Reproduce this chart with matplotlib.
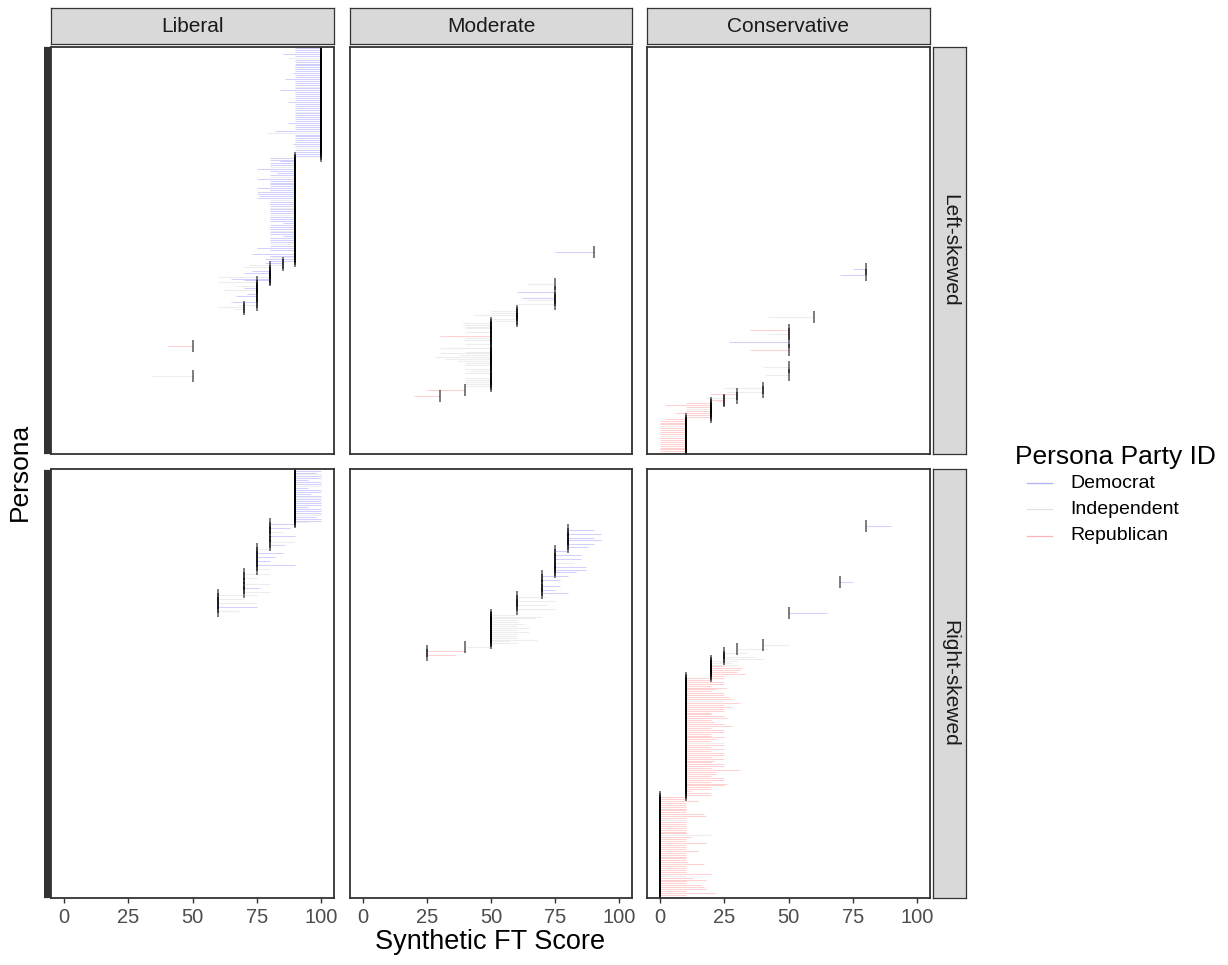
import matplotlib
matplotlib.use("Agg")
import matplotlib.pyplot as plt
from matplotlib.lines import Line2D
import numpy as np

plt.rcParams['font.family'] = ['Liberation Sans', 'DejaVu Sans']

columns = ["Liberal", "Moderate", "Conservative"]
column_codes = ["L", "M", "C"]
rows = ["Left-skewed", "Right-skewed"]
party_names = ["Democrat", "Independent", "Republican"]
party_codes = ["D", "I", "R"]
party_colors = {"D": "#0000ff", "I": "#a0a0a0", "R": "#ff0000"}
x_ticks = [0, 25, 50, 75, 100]

# personas listed top to bottom: (ideology codes, target, synthetic scores, party codes)
left_blocks = [
    ("L", 100,
     [90, 90, 90, 85, 90, 87, 90, 90, 90, 90,
      90, 90, 90, 89, 90, 90, 86, 90, 90, 90,
      90, 90, 84, 90, 90, 90, 90, 90, 87, 90,
      90, 90, 90, 90, 90, 90, 90, 90, 90, 87,
      90, 90, 90, 82, 79, 90, 90, 90, 90, 90,
      89, 90, 90, 90, 90, 90, 90],
     "DDDDDIDDDD DDDDDDDDDD IDDDDDDDDD DDDIDDDDDD DDDDIDDDDD DDIDDDD"),
    ("LLLLLLLLLL LLLLLLLLLL LLLLLLLLLL LLLLLLLLLL LLLLLLLLLM LLLLL", 90,
     [80, 80, 84, 80, 80, 80, 75, 80, 83, 80,
      80, 75, 80, 80, 80, 80, 75, 80, 75, 75,
      76, 75, 80, 80, 80, 80, 80, 80, 80, 80,
      80, 80, 80, 80, 85, 80, 80, 80, 80, 80,
      80, 85, 80, 80, 80, 80, 80, 75, 80, 75,
      73, 80, 80, 78, 80],
     "DDDDDIDDDD IDDDDDDDDD DDIDDDIDDD IDDDDDDDID DDDDDIDDDD DDIDD"),
    ("L", 85, [78, 72], "DI"),
    ("LCLLCLLL", 80, [70, 75, 73, 70, 70, 60, 65, 70], "IDDDDIDD"),
    ("LMLLLMLLMMLML", 75, [60, 64, 67, 70, 62, 60, 71, 67, 62, 64, 65, 60, 68], "IIIDIDDDDIDII"),
    ("L", 70, [60, 66], "II"),
    ("MMMCMM", 60, [50, 50, 43, 42, 50, 51], "IIIIII"),
    ("MMMMCMCMMM CMLMCMMMMM MMMCMMMCLM MMMM", 50,
     [39, 39, 40, 40, 35, 40, 42, 30, 40, 39,
      27, 40, 40, 30, 35, 40, 30, 38, 28, 32,
      37, 40, 40, 40, 40, 42, 40, 41, 34, 40,
      40, 40, 40, 40],
     "IIIIRIIRII DIRIRIIIII IIIIIIIIII IIII"),
    ("CMC", 40, [25, 25, 26], "IRI"),
    ("CMC", 30, [20, 20, 18], "RRI"),
    ("C", 25, [20, 22], "RI"),
    ("C", 20, [10, 2, 10, 10, 10, 6, 10, 10], "RRRIRRRR"),
    ("C", 10, [2, 0, 0, 0, 0, 0, 0, 0, 0, 0, 0, 0, 0, 0, 0, 0, 0, 0, 0],
     "RRRRIRRRRIRRRRRRRRR"),
]

right_blocks = [
    ("L", 90,
     [100, 98, 100, 100, 100, 95, 100, 100, 100, 95,
      100, 100, 96, 100, 100, 100, 100, 100, 100, 95,
      100, 100, 100, 100, 98, 100, 100, 95],
     "DDIDDDDDID DDDDIDDDDD DDDIDDDI"),
    ("LCLMLMLMMLMLM", 80, [90, 90, 88, 90, 85, 93, 90, 90, 93, 90, 90, 86, 88], "DDDDIDDDDIDDD"),
    ("LMLMLMLMLMLMM", 75, [80, 80, 85, 85, 82, 85, 80, 82, 90, 87, 80, 87, 83], "IDDDDDDIDDIDD"),
    ("LMLMCLMLMLM", 70, [80, 80, 75, 77, 75, 80, 77, 76, 75, 80, 80], "IDIDDIDDDID"),
    ("LMLMLMLML", 60, [75, 71, 70, 75, 75, 72, 75, 75, 68], "IIIIIIDII"),
    ("CMMMMMMMMMMMMMMMM", 50, [65, 60, 70, 67, 60, 60, 63, 60, 65, 60, 65, 60, 60, 60, 68, 57, 60],
     "DIIIIIIIIIIIIIIII"),
    ("CM", 40, [50, 50], "II"),
    ("C", 30, [42], "I"),
    ("MCMCC", 25, [40, 34, 36, 37, 40], "RIRII"),
    ("C", 20, [30, 28, 30, 25, 32, 31, 30, 33, 25], "IIIRRRRRR"),
    ("C", 10,
     [25, 20, 25, 25, 20, 26, 22, 20, 25, 25,
      27, 28, 25, 31, 25, 28, 25, 25, 20, 20,
      25, 26, 20, 21, 25, 28, 20, 25, 25, 20,
      20, 25, 22, 20, 25, 25, 20, 25, 20, 25,
      25, 20, 25, 21, 20, 25, 25, 20, 31, 22,
      22, 20, 25, 25, 20, 26, 25, 20, 20, 12,
      20, 20],
     "RRRRRRRRRR RRIRRRRRRR RRRRRRRRRR RRRRIRRRRR RRRRRRRRRR RRRRRRRRRR RR"),
    ("C", 0,
     [10, 10, 15, 10, 10, 10, 10, 10, 10, 17,
      18, 10, 10, 10, 10, 10, 10, 10, 10, 10,
      20, 12, 10, 10, 18, 10, 10, 10, 15, 10,
      10, 10, 10, 10, 11, 17, 10, 10, 10, 10,
      20, 10, 13, 18, 10, 10, 16, 17, 18, 10,
      22, 10, 10],
     "RRRRRRRRRR RRIRRRRRRR IRRRRRRRRR RRRRRRRRRR RIRRRRRRRR RRR"),
]


def unpack(blocks):
    ideo, target, score, party = [], [], [], []
    for codes, tgt, scores, parties in blocks:
        codes = codes.replace(" ", "")
        parties = parties.replace(" ", "")
        if len(codes) == 1:
            codes = codes * len(scores)
        assert len(codes) == len(scores) == len(parties), (tgt, len(codes), len(scores), len(parties))
        ideo += list(codes)
        target += [tgt] * len(scores)
        score += scores
        party += list(parties)
    return np.array(ideo), np.array(target, float), np.array(score, float), np.array(party)


row_data = [unpack(left_blocks), unpack(right_blocks)]

W, H = 1228, 965
fig = plt.figure(figsize=(W / 100, H / 100), dpi=100)


def px_axes(x0, y0, x1, y1, **kw):
    return fig.add_axes([x0 / W, 1 - y1 / H, (x1 - x0) / W, (y1 - y0) / H], **kw)


def strip(x0, y0, x1, y1, label, rot):
    st = px_axes(x0, y0, x1, y1)
    st.set_facecolor("#D9D9D9")
    st.set_xticks([])
    st.set_yticks([])
    for sp in st.spines.values():
        sp.set_color(border)
        sp.set_linewidth(0.9)
    st.text(0.5, 0.5, label, ha="center", va="center", fontsize=15,
            rotation=rot, color="#1A1A1A", transform=st.transAxes)


col_x = [(51, 334), (350, 632), (647, 930)]
top, bottom, gap = 47, 898, 15
sizes = [len(d[0]) + 0.2 for d in row_data]
avail = bottom - top - gap
row_y = []
y0 = top
for s in sizes:
    h = avail * s / sum(sizes)
    row_y.append((y0, y0 + h))
    y0 += h + gap

border = "#333333"

for r, (ideo, target, score, party) in enumerate(row_data):
    n = len(ideo)
    ypos = np.arange(n)
    for c, code in enumerate(column_codes):
        x0, x1 = col_x[c]
        ya, yb = row_y[r]
        ax = px_axes(x0, ya, x1, yb)
        m = ideo == code
        for p in party_codes:
            mp = m & (party == p)
            ax.hlines(ypos[mp], target[mp], score[mp], colors=party_colors[p],
                      alpha=0.18, linewidth=0.75)
        ax.plot(target[m], ypos[m], linestyle="none", marker="|", color="black",
                markersize=8, markeredgewidth=1.1, alpha=0.65)
        ax.set_xlim(-5, 105)
        ax.set_ylim(n - 0.4, -0.6)
        for sp in ax.spines.values():
            sp.set_color(border)
            sp.set_linewidth(1.3)
        ax.tick_params(colors=border, labelcolor="#4D4D4D", labelsize=14.5,
                       length=3.6, width=1.0)
        if c == 0:
            ax.set_yticks(ypos)
            ax.set_yticklabels([])
            ax.tick_params(axis="y", width=1.6, length=5)
        else:
            ax.set_yticks([])
        if r == 1:
            ax.set_xticks(x_ticks)
        else:
            ax.set_xticks([])

        if r == 0:
            strip(x0, 8, x1, 44, columns[c], 0)

    ya, yb = row_y[r]
    strip(933, ya, 966, yb, rows[r], -90)

fig.text(20 / W, 1 - 472 / H, "Persona", rotation=90, ha="center", va="center", fontsize=19)
fig.text(490 / W, 1 - 942 / H, "Synthetic FT Score", ha="center", va="center", fontsize=19.5)

# legend
fig.text(1015 / W, 1 - 457 / H, "Persona Party ID", ha="left", va="center", fontsize=19)
for i, (name, code) in enumerate(zip(party_names, party_codes)):
    yy = 1 - (483 + i * 26.5) / H
    fig.add_artist(Line2D([1027 / W, 1052 / W], [yy, yy], transform=fig.transFigure,
                          color=party_colors[code], alpha=0.3, linewidth=0.9))
    fig.text(1070 / W, yy, name, ha="left", va="center", fontsize=14)

fig.savefig("out.png", dpi=100)
